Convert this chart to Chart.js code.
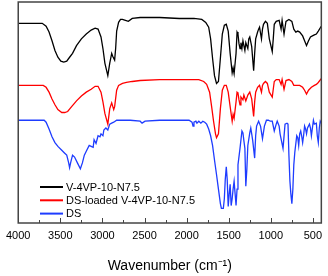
<!DOCTYPE html>
<html>
<head>
<meta charset="utf-8">
<script src="https://cdn.jsdelivr.net/npm/chart.js@4.4.1/dist/chart.umd.min.js"></script>
<style>
  body { margin: 0; background: #fff; }
  #wrap { position: relative; width: 328px; height: 276px; }
</style>
</head>
<body>
<div id="wrap"><canvas id="myChart" width="328" height="276"></canvas></div>
<script>
// spectra, [wavenumber, transmittance (offset, a.u.)]
var seriesNames = ['V-4VP-10-N7.5', 'DS-loaded V-4VP-10-N7.5', 'DS'];
var seriesColors = ['#000000', '#ff0000', '#1e3cff'];
var xTicks = [4000, 3500, 3000, 2500, 2000, 1500, 1000, 500];

var blackSpec = [[4000,206],[3715,206],[3669,203],[3634,197],[3599,188],[3564,178],[3529,171],[3494,167],[3459,166],[3424,167],[3390,171],[3355,175],[3308,183],[3250,190],[3192,195],[3134,199],[3087,201],[3052,200],[3017,192],[2994,180],[2971,165],[2936,152],[2913,165],[2890,175],[2878,172],[2855,168],[2843,180],[2831,198],[2808,207],[2785,210],[2762,210],[2727,209],[2692,208],[2646,211],[2552,212],[2320,212],[2087,211],[1913,211],[1820,210],[1773,207],[1738,202],[1715,190],[1692,170],[1669,152],[1645,144],[1622,146],[1599,170],[1576,195],[1552,204],[1529,205],[1506,198],[1483,175],[1459,155],[1448,160],[1436,154],[1413,175],[1401,197],[1390,195],[1378,185],[1366,180],[1355,186],[1343,180],[1331,188],[1320,183],[1308,178],[1297,186],[1273,180],[1262,190],[1250,192],[1227,182],[1204,157],[1192,175],[1180,190],[1157,197],[1145,200],[1134,202],[1111,190],[1099,200],[1087,205],[1064,208],[1041,206],[1018,190],[983,177],[971,190],[959,205],[936,208],[901,209],[878,200],[866,209],[843,195],[820,208],[785,210],[750,208],[727,200],[703,197],[680,198],[657,197],[622,193],[599,188],[576,183],[552,188],[529,192],[506,193],[483,194],[459,195],[436,198],[401,203]];

var redSpec = [[4000,142],[3703,142],[3669,140],[3634,135],[3599,128],[3564,122],[3529,117],[3483,114],[3448,114],[3413,115],[3366,120],[3308,126],[3250,131],[3192,135],[3134,138],[3087,141],[3052,141],[3017,135],[2994,125],[2971,113],[2936,102],[2913,118],[2890,124],[2866,117],[2855,120],[2831,137],[2808,142],[2762,144],[2715,145],[2646,146],[2552,147],[2320,148],[2087,148],[1855,148],[1797,146],[1762,143],[1727,135],[1703,120],[1680,105],[1657,92],[1645,88],[1622,92],[1599,118],[1576,137],[1552,142],[1529,142],[1506,135],[1483,120],[1459,105],[1448,112],[1436,108],[1413,125],[1401,135],[1390,134],[1378,127],[1366,122],[1355,130],[1331,127],[1320,132],[1297,126],[1273,132],[1250,135],[1227,128],[1204,110],[1192,125],[1180,135],[1157,140],[1134,142],[1111,135],[1099,142],[1087,144],[1064,146],[1041,144],[1018,135],[983,130],[971,138],[959,146],[936,148],[901,148],[878,143],[866,148],[843,138],[820,147],[785,148],[750,146],[727,142],[692,142],[657,142],[622,140],[599,137],[576,133],[552,137],[518,140],[483,142],[459,143],[436,145],[401,149]];

var blueSpec = [[4000,106],[3692,106],[3669,104],[3634,97],[3599,89],[3564,83],[3529,79],[3483,75],[3448,72],[3424,70],[3401,62],[3390,57],[3378,62],[3355,70],[3331,68],[3297,62],[3262,56],[3238,62],[3215,70],[3192,74],[3157,80],[3134,79],[3110,78],[3099,86],[3076,82],[3052,90],[3029,89],[3017,92],[2994,90],[2983,96],[2959,98],[2936,96],[2913,102],[2890,103],[2866,104],[2831,106],[2785,106],[2669,106],[2552,105],[2529,103],[2494,105],[2320,106],[2087,106],[1971,106],[1936,104],[1924,100],[1913,104],[1890,105],[1878,103],[1855,105],[1831,103],[1808,105],[1785,104],[1762,102],[1738,97],[1715,90],[1692,80],[1669,65],[1645,50],[1622,35],[1599,20],[1587,15],[1564,15],[1552,25],[1541,45],[1529,58],[1518,45],[1506,17],[1494,30],[1483,40],[1471,18],[1459,25],[1448,35],[1436,43],[1424,30],[1413,18],[1401,35],[1390,60],[1366,77],[1343,95],[1331,93],[1320,85],[1308,77],[1297,38],[1285,55],[1273,80],[1250,93],[1238,98],[1227,92],[1215,85],[1192,67],[1180,90],[1169,100],[1145,105],[1122,100],[1099,87],[1076,100],[1052,106],[1029,106],[1006,105],[983,105],[959,95],[936,102],[924,105],[901,100],[890,92],[855,77],[831,102],[808,103],[796,102],[785,70],[773,43],[762,30],[750,20],[738,35],[727,60],[715,73],[692,90],[680,88],[669,80],[657,92],[645,95],[634,90],[622,83],[611,90],[599,100],[587,97],[576,92],[564,98],[541,102],[529,98],[518,90],[506,98],[494,106],[483,102],[459,103],[448,90],[436,83],[424,98],[413,105],[401,103]];

var FONT = "Arial, 'Liberation Sans', sans-serif";

function toPoints(arr) {
  return arr.map(function (p) { return { x: p[0], y: p[1] }; });
}

// frame, inward ticks and the legend inside the plot
var framePlugin = {
  id: 'frame',
  afterDraw: function (chart) {
    var ctx = chart.ctx;
    var a = chart.chartArea;
    var xs = chart.scales.x;
    ctx.save();
    ctx.strokeStyle = '#444';
    ctx.lineWidth = 1.5;
    ctx.strokeRect(a.left, a.top, a.right - a.left, a.bottom - a.top);
    ctx.lineWidth = 1;
    for (var v = 500; v <= 4000; v += 250) {
      var px = Math.round(xs.getPixelForValue(v)) + 0.5;
      var len = (v % 500 === 0) ? 5 : 3;
      ctx.beginPath();
      ctx.moveTo(px, a.bottom);
      ctx.lineTo(px, a.bottom - len);
      ctx.stroke();
    }
    // legend
    ctx.font = '11px ' + FONT;
    ctx.textBaseline = 'middle';
    var lx = 40, ly = 187;
    for (var i = 0; i < seriesNames.length; i++) {
      var y = ly + i * 13.3;
      ctx.strokeStyle = seriesColors[i];
      ctx.lineWidth = 2;
      ctx.beginPath();
      ctx.moveTo(lx, y);
      ctx.lineTo(lx + 23, y);
      ctx.stroke();
      ctx.fillStyle = '#000';
      ctx.fillText(seriesNames[i], lx + 26, y + 0.5);
    }
    ctx.restore();
  }
};

var ctx = document.getElementById('myChart');
var myChart = new Chart(ctx, {
  type: 'line',
  data: {
    datasets: [blackSpec, redSpec, blueSpec].map(function (s, i) {
      return {
        label: seriesNames[i],
        data: toPoints(s),
        borderColor: seriesColors[i],
        borderWidth: 1.3,
        pointRadius: 0,
        tension: 0,
        fill: false
      };
    })
  },
  options: {
    responsive: false,
    animation: false,
    layout: {
      padding: { left: 15, right: 0, top: 2, bottom: 0 }
    },
    plugins: {
      legend: { display: false },
      tooltip: { enabled: false }
    },
    scales: {
      x: {
        type: 'linear',
        reverse: true,
        min: 400,
        max: 4000,
        grid: { display: false, drawTicks: false },
        border: { display: false },
        afterBuildTicks: function (scale) {
          scale.ticks = xTicks.map(function (v) { return { value: v }; });
        },
        ticks: {
          padding: 6,
          maxRotation: 0,
          autoSkip: false,
          color: '#000',
          font: { family: FONT, size: 11 },
          callback: function (value) { return String(value); }
        },
        title: {
          display: true,
          text: 'Wavenumber (cm⁻¹)',
          color: '#000',
          font: { family: FONT, size: 14 },
          padding: { top: 10, bottom: 1 }
        }
      },
      y: {
        display: false,
        min: 0,
        max: 228
      }
    }
  },
  plugins: [framePlugin]
});
</script>
</body>
</html>
